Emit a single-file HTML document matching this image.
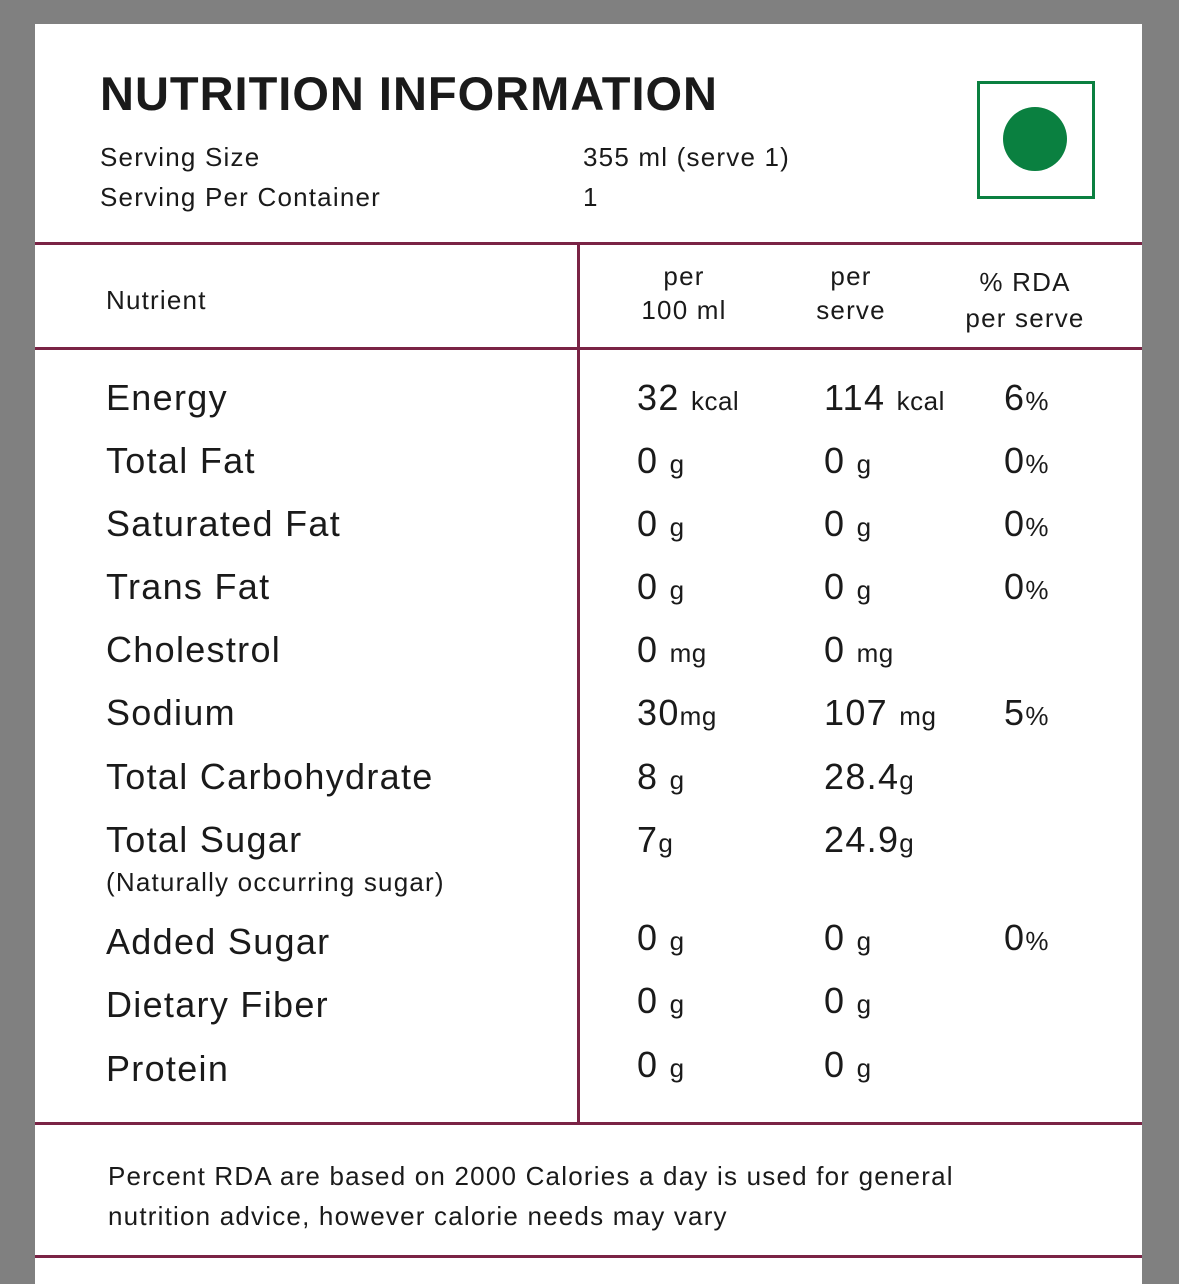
<!DOCTYPE html>
<html><head><style>
body{margin:0;width:1179px;height:1267px;background:#808080;position:relative;overflow:hidden;font-family:"Liberation Sans","DejaVu Sans",sans-serif;color:#1a1a1a}
.panel{position:absolute;left:35px;top:24px;width:1107px;height:1260px;background:#fff}
.t{position:absolute;white-space:nowrap}
.h{position:absolute;left:35px;width:1107px;height:3px;background:#7a2345}
.v{position:absolute;left:577px;top:243px;width:3px;height:881px;background:#7a2345}
.n{font-size:36px;letter-spacing:1.3px}
.u{font-size:26px;letter-spacing:0.5px}
.s{font-size:26px;letter-spacing:1.2px}
</style></head><body>
<div class="panel"></div>
<div class="t" style="left:100px;top:66px;font-size:47px;font-weight:bold;letter-spacing:1px">NUTRITION INFORMATION</div>
<div class="t s" style="left:100px;top:142px">Serving Size</div>
<div class="t s" style="left:100px;top:182px">Serving Per Container</div>
<div class="t s" style="left:583px;top:142px">355 ml (serve 1)</div>
<div class="t s" style="left:583px;top:182px">1</div>
<div style="position:absolute;left:977px;top:81px;width:112px;height:112px;border:3px solid #0a8040"></div>
<div style="position:absolute;left:1003px;top:107px;width:64px;height:64px;border-radius:50%;background:#0a8040"></div>
<div class="h" style="top:242px"></div>
<div class="h" style="top:347px"></div>
<div class="h" style="top:1122px"></div>
<div class="h" style="top:1255px"></div>
<div class="v"></div>
<div class="t s" style="left:106px;top:285px">Nutrient</div>
<div class="t s" style="left:630px;top:259px;width:108px;text-align:center;line-height:34px">per<br>100 ml</div>
<div class="t s" style="left:798px;top:259px;width:106px;text-align:center;line-height:34px">per<br>serve</div>
<div class="t s" style="left:945px;top:264px;width:160px;text-align:center;line-height:36px">% RDA<br>per serve</div>

<div class="t n" style="left:106px;top:377px">Energy</div>
<div class="t n" style="left:106px;top:440px">Total Fat</div>
<div class="t n" style="left:106px;top:503px">Saturated Fat</div>
<div class="t n" style="left:106px;top:566px">Trans Fat</div>
<div class="t n" style="left:106px;top:629px">Cholestrol</div>
<div class="t n" style="left:106px;top:692px">Sodium</div>
<div class="t n" style="left:106px;top:756px">Total Carbohydrate</div>
<div class="t n" style="left:106px;top:819px">Total Sugar</div>
<div class="t s" style="left:106px;top:867px">(Naturally occurring sugar)</div>
<div class="t n" style="left:106px;top:921px">Added Sugar</div>
<div class="t n" style="left:106px;top:984px">Dietary Fiber</div>
<div class="t n" style="left:106px;top:1048px">Protein</div>

<div class="t n" style="left:637px;top:377px">32 <span class="u">kcal</span></div>
<div class="t n" style="left:824px;top:377px">114 <span class="u">kcal</span></div>
<div class="t n" style="left:1004px;top:377px">6<span class="u">%</span></div>

<div class="t n" style="left:637px;top:440px">0 <span class="u">g</span></div>
<div class="t n" style="left:824px;top:440px">0 <span class="u">g</span></div>
<div class="t n" style="left:1004px;top:440px">0<span class="u">%</span></div>

<div class="t n" style="left:637px;top:503px">0 <span class="u">g</span></div>
<div class="t n" style="left:824px;top:503px">0 <span class="u">g</span></div>
<div class="t n" style="left:1004px;top:503px">0<span class="u">%</span></div>

<div class="t n" style="left:637px;top:566px">0 <span class="u">g</span></div>
<div class="t n" style="left:824px;top:566px">0 <span class="u">g</span></div>
<div class="t n" style="left:1004px;top:566px">0<span class="u">%</span></div>

<div class="t n" style="left:637px;top:629px">0 <span class="u">mg</span></div>
<div class="t n" style="left:824px;top:629px">0 <span class="u">mg</span></div>

<div class="t n" style="left:637px;top:692px">30<span class="u">mg</span></div>
<div class="t n" style="left:824px;top:692px">107 <span class="u">mg</span></div>
<div class="t n" style="left:1004px;top:692px">5<span class="u">%</span></div>

<div class="t n" style="left:637px;top:756px">8 <span class="u">g</span></div>
<div class="t n" style="left:824px;top:756px">28.4<span class="u">g</span></div>

<div class="t n" style="left:637px;top:819px">7<span class="u">g</span></div>
<div class="t n" style="left:824px;top:819px">24.9<span class="u">g</span></div>

<div class="t n" style="left:637px;top:917px">0 <span class="u">g</span></div>
<div class="t n" style="left:824px;top:917px">0 <span class="u">g</span></div>
<div class="t n" style="left:1004px;top:917px">0<span class="u">%</span></div>

<div class="t n" style="left:637px;top:980px">0 <span class="u">g</span></div>
<div class="t n" style="left:824px;top:980px">0 <span class="u">g</span></div>

<div class="t n" style="left:637px;top:1044px">0 <span class="u">g</span></div>
<div class="t n" style="left:824px;top:1044px">0 <span class="u">g</span></div>

<div class="t s" style="left:108px;top:1156px;line-height:40px">Percent RDA are based on 2000 Calories a day is used for general<br>nutrition advice, however calorie needs may vary</div>
</body></html>
